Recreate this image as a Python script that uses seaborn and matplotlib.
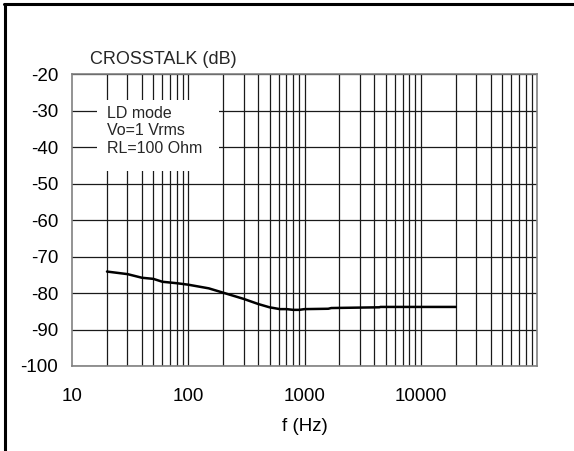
import matplotlib
matplotlib.use("Agg")
import matplotlib.pyplot as plt
import seaborn as sns
import pandas as pd
import numpy as np
from matplotlib.lines import Line2D
from matplotlib.patches import Rectangle

freq_hz = [20, 30, 40, 50, 60, 80, 100, 150, 200, 300, 400, 500, 614, 700, 800, 900, 1000, 1600, 1700, 4400, 4500, 20000]
crosstalk_db = [-74.1, -74.8, -75.8, -76.1, -76.9, -77.3, -77.7, -78.7, -79.9, -81.6, -83.0, -83.9, -84.4, -84.4, -84.6, -84.6, -84.4, -84.3, -84.1, -83.9, -83.8, -83.8]
y_ticks = [-20, -30, -40, -50, -60, -70, -80, -90, -100]
x_ticks = [10, 100, 1000, 10000]
x_tick_labels = ["10", "100", "1000", "10000"]
info_lines = ["LD mode", "Vo=1 Vrms", "RL=100 Ohm"]

sns.set_theme(style="white")
plt.rcParams['font.family'] = ['Liberation Sans', 'DejaVu Sans']
plt.rcParams['axes.unicode_minus'] = False

FS = 13.5
W, H = 574, 451
fig = plt.figure(figsize=(W / 100, H / 100), dpi=100)
ax = fig.add_axes([72 / W, 1 - 366 / H, (537 - 72) / W, (366 - 74.3) / H])

df = pd.DataFrame({"f": freq_hz, "db": crosstalk_db})
sns.lineplot(data=df, x="f", y="db", ax=ax, color="black", linewidth=1.8, zorder=5)

ax.set_xscale("log")
ax.set_xlim(10, 100000)
ax.set_ylim(-100, -20)

# grid lines
minor = [m * 10 ** e for e in range(1, 5) for m in range(2, 10)]
for v in minor + [100, 1000, 10000]:
    ax.axvline(v, color="#1a1a1a", linewidth=0.9, zorder=1)
for v in y_ticks:
    ax.axhline(v, color="#1a1a1a", linewidth=0.9, zorder=1)

ax.set_xticks(x_ticks)
ax.set_xticklabels(x_tick_labels)
ax.set_xticks([], minor=True)
ax.set_yticks(y_ticks)
ax.tick_params(axis="both", length=0, labelsize=FS, colors="black")
ax.tick_params(axis="y", pad=10)
ax.tick_params(axis="x", pad=16)
for s in ax.spines.values():
    s.set_color("#808080")
    s.set_linewidth(1.2)

ax.set_xlabel("f (Hz)", fontsize=FS, color="black", labelpad=9)
ax.set_ylabel("")

# white box covering grid with info text
box = Rectangle((97 / W, 1 - 171 / H), (219 - 97) / W, (171 - 100) / H,
                transform=fig.transFigure, facecolor="white", edgecolor="none", zorder=3)
ax.add_artist(box)
box.set_transform(fig.transFigure)
for i, t in enumerate(info_lines):
    fig.text(107 / W, 1 - (113 + i * 17.7) / H, t, fontsize=11.5, va="center", ha="left", zorder=6)

fig.text(163.5 / W, 1 - 59 / H, "CROSSTALK (dB)", fontsize=13, va="center", ha="center")

# figure border (top and left)
fig.add_artist(Line2D([4 / W, 1], [1 - 4 / H, 1 - 4 / H], transform=fig.transFigure, color="black", linewidth=2.2))
fig.add_artist(Line2D([5 / W, 5 / W], [0, 1 - 4 / H], transform=fig.transFigure, color="black", linewidth=2.2))

fig.savefig("out.png", dpi=100)
